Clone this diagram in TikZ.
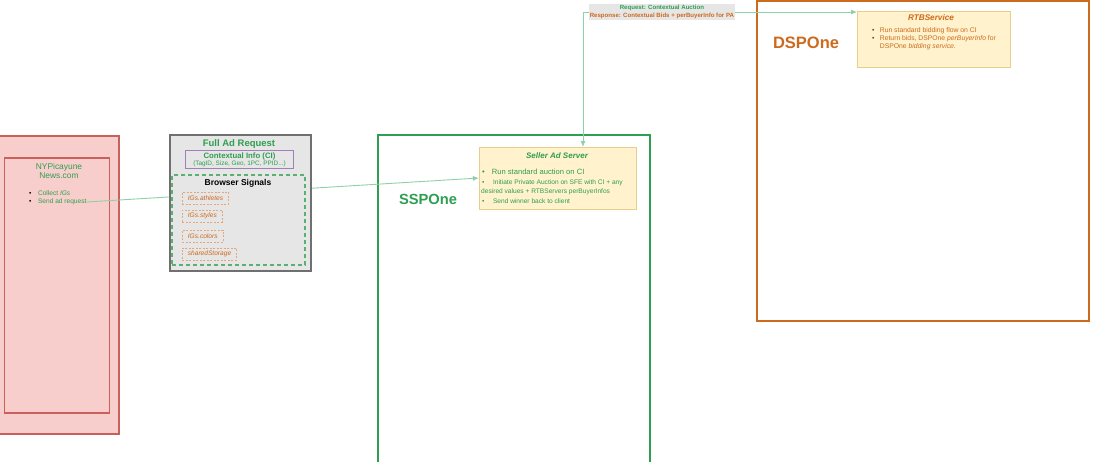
\documentclass[tikz,border=0pt]{standalone}
\usepackage{fontspec}
\setmainfont{Liberation Sans}
\usetikzlibrary{arrows.meta}
\definecolor{pubfill}{HTML}{F8CECC}
\definecolor{publine}{HTML}{C9605C}
\definecolor{sspgreen}{HTML}{2E9E50}
\definecolor{flowgreen}{HTML}{8FD0A8}
\definecolor{reqfill}{HTML}{E6E6E6}
\definecolor{reqline}{HTML}{707070}
\definecolor{ciline}{HTML}{A27FB8}
\definecolor{dsporange}{HTML}{CC6A1E}
\definecolor{igline}{HTML}{E3A77A}
\definecolor{notefill}{HTML}{FFF2CC}
\definecolor{noteline}{HTML}{E6CF8C}
\newcommand{\fsz}[2]{\fontsize{#1}{#2}\selectfont}

\begin{document}
\begin{tikzpicture}[x=1pt, y=-1pt,
    frame/.style={draw, outer sep=0pt, inner sep=0pt},
    note/.style={frame, fill=notefill, draw=noteline, line width=0.8pt},
    igbox/.style={draw=igline, dash pattern=on 2pt off 1.5pt, line width=0.8pt,
        text=dsporange, anchor=west, inner xsep=5.5pt, inner ysep=0pt,
        minimum height=12pt, font={\fsz{6.6}{8}\itshape}},
    line/.style={anchor=west, inner sep=0pt, font={\fsz{6.6}{8}}},
    flow/.style={draw=flowgreen, line width=0.9pt}]
    \useasboundingbox (0,0) rectangle (1100,461);

    % publisher
    \node[frame, fill=pubfill, draw=publine, line width=2pt,
        minimum width=124, minimum height=298] (pub) at (57,285) {};
    \node[frame, draw=publine, line width=1.5pt,
        minimum width=105, minimum height=255] (site) at (57,285.5) {};
    \node[text=sspgreen, align=center, font={\fsz{8.4}{9.7}}] (sitename) at (59,171) {NYPicayune\\News.com};
    \node[line, text=sspgreen] (collect) at (29,193) {{\color{black}\textbullet}\hspace{6.5pt}Collect \textit{IGs}};
    \node[line, text=sspgreen] (send) at (29,202) {{\color{black}\textbullet}\hspace{6.5pt}Send ad request};
    \coordinate (adreq) at (send.east);

    % ssp
    \node[frame, draw=sspgreen, line width=2pt,
        minimum width=272, minimum height=340] (ssp) at (514,305) {};
    \node[text=sspgreen, font={\fsz{14.7}{16}\bfseries}] (sspname) at (428,199) {SSPOne};
    \node[note, minimum width=157, minimum height=62] (sas) at (557.5,178) {};
    \node[text=sspgreen, font={\fsz{8}{9}\bfseries\itshape}] (sastitle) at (557,156) {Seller Ad Server};
    \node[line, text=sspgreen, font={\fsz{7.6}{9}}] (sas1) at (482,172) {\textbullet\hspace{7pt}Run standard auction on CI};
    \node[line, text=sspgreen] (sas2) at (482,183) {\textbullet\hspace{8.5pt}Initiate Private Auction on SFE with CI + any};
    \node[line, text=sspgreen] (sas3) at (481,192) {desired values + RTBServers perBuyerInfos};
    \node[line, text=sspgreen] (sas4) at (482,201) {\textbullet\hspace{8.5pt}Send winner back to client};

    % dsp
    \node[frame, draw=dsporange, line width=2pt,
        minimum width=332, minimum height=320] (dsp) at (923,161) {};
    \node[text=dsporange, font={\fsz{16.5}{18}\bfseries}] (dspname) at (806,43) {DSPOne};
    \node[note, minimum width=153, minimum height=56] (rtb) at (933.5,39) {};
    \node[text=dsporange, font={\fsz{8.2}{9}\bfseries\itshape}] (rtbtitle) at (931,18) {RTBService};
    \node[line, text=dsporange, align=left, anchor=north west, font={\fsz{6.8}{8}}] (rtbnotes) at (872,27)
        {{\color{black!70}\textbullet}\hspace{5.3pt}Run standard bidding flow on CI\\
         {\color{black!70}\textbullet}\hspace{5.3pt}Return bids, DSPOne \textit{perBuyerInfo} for\\
         \phantom{\textbullet}\hspace{5.3pt}DSPOne \textit{bidding service}.};

    % arrows
    \draw[flow, ->, >={Latex[length=6pt,width=5pt]}] (adreq) -- (sas.west);
    \draw[flow, <->, >={Latex[length=6pt,width=5pt]}] ([xshift=25.5pt]sas.north) |- ([yshift=-1pt]rtb.north west)
        node[pos=0.644, fill=reqfill, inner xsep=0.5pt, inner ysep=1pt, align=center,
            font={\fsz{6.1}{8}\bfseries}] (bidlabel)
        {{\color{sspgreen}Request: Contextual Auction}\\{\color{dsporange}Response: Contextual Bids + perBuyerInfo for PA}};

    % full ad request
    \node[frame, fill=reqfill, draw=reqline, line width=2.2pt,
        minimum width=141, minimum height=136] (fullreq) at (240.5,203) {};
    \node[text=sspgreen, font={\fsz{9.5}{11}\bfseries}] (fulltitle) at (239,144) {Full Ad Request};
    \node[frame, draw=ciline, line width=0.9pt,
        minimum width=108, minimum height=18.5] (ci) at (239.5,159.5) {};
    \node[text=sspgreen, inner sep=0pt, font={\fsz{7.8}{9}\bfseries}] (cititle) at (239.5,156) {Contextual Info (CI)};
    \node[text=sspgreen, inner sep=0pt, font={\fsz{6.4}{7}}] (cifields) at (239.5,164.3) {(TagID, Size, Geo, 1PC, PPID...)};
    \node[frame, draw=sspgreen!80, dash pattern=on 4pt off 3pt, line width=1.2pt,
        minimum width=133, minimum height=90] (signals) at (238.5,220) {};
    \node[font={\fsz{8.5}{10}\bfseries}] (signalstitle) at (238,183.5) {Browser Signals};
    \node[igbox] (athletes) at (182,198) {IGs.athletes};
    \node[igbox] (styles) at (182,216) {IGs.styles};
    \node[igbox] (colors) at (182,236) {IGs.colors};
    \node[igbox] (storage) at (182,254) {sharedStorage};
\end{tikzpicture}
\end{document}
